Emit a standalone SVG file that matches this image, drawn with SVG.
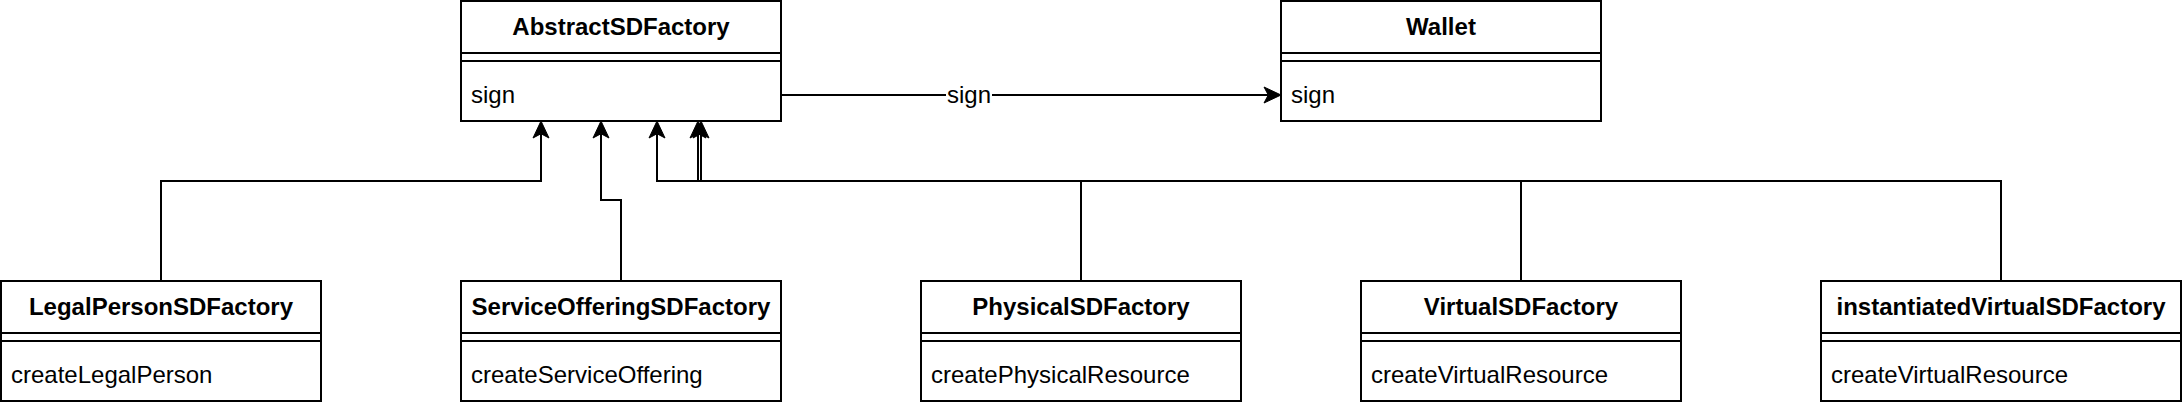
<svg xmlns="http://www.w3.org/2000/svg" width="2182" height="408" viewBox="0 0 2182 408">
  <style>
    .box { fill: #ffffff; stroke: #000000; stroke-width: 2; }
    .sep { stroke: #000000; stroke-width: 2; fill: none; }
    .title { font-family: "Liberation Sans", Arial, sans-serif; font-size: 24px; font-weight: bold; fill: #000000; text-anchor: middle; }
    .field { font-family: "Liberation Sans", Arial, sans-serif; font-size: 24px; fill: #000000; }
    .edge { fill: none; stroke: #000000; stroke-width: 2; }
    .lbl { font-family: "Liberation Sans", Arial, sans-serif; font-size: 24px; fill: #000000; text-anchor: middle; }
  </style>
  <defs>
    <marker id="arrow" markerUnits="userSpaceOnUse" markerWidth="20" markerHeight="20" refX="4.25" refY="0" orient="auto" viewBox="0 -10 20 20" overflow="visible">
      <path d="M17,0 L0,-8 L4.25,0 L0,8 Z" fill="#000000" stroke="#000000" stroke-width="1"/>
    </marker>
  </defs>

  <g id="connectors">
    <path class="edge" d="M161,281 V181 H541 V133.75" marker-end="url(#arrow)"/>
    <path class="edge" d="M621,281 V200 H601 V133.75" marker-end="url(#arrow)"/>
    <path class="edge" d="M1081,281 V181 H657 V133.75" marker-end="url(#arrow)"/>
    <path class="edge" d="M1521,281 V181 H698 V133.75" marker-end="url(#arrow)"/>
    <path class="edge" d="M2001,281 V181 H701 V133.75" marker-end="url(#arrow)"/>
    <path class="edge" d="M781,95 H1268.25" marker-end="url(#arrow)"/>
    <rect x="946" y="83" width="46" height="24" fill="#ffffff"/>
    <text class="lbl" x="969" y="103">sign</text>
  </g>

  <g id="AbstractSDFactory">
    <rect class="box" x="461" y="1" width="320" height="120"/>
    <line class="sep" x1="461" y1="53" x2="781" y2="53"/>
    <line class="sep" x1="461" y1="61" x2="781" y2="61"/>
    <text class="title" x="621" y="35">AbstractSDFactory</text>
    <text class="field" x="471" y="103">sign</text>
  </g>

  <g id="Wallet">
    <rect class="box" x="1281" y="1" width="320" height="120"/>
    <line class="sep" x1="1281" y1="53" x2="1601" y2="53"/>
    <line class="sep" x1="1281" y1="61" x2="1601" y2="61"/>
    <text class="title" x="1441" y="35">Wallet</text>
    <text class="field" x="1291" y="103">sign</text>
  </g>

  <g id="LegalPersonSDFactory">
    <rect class="box" x="1" y="281" width="320" height="120"/>
    <line class="sep" x1="1" y1="333" x2="321" y2="333"/>
    <line class="sep" x1="1" y1="341" x2="321" y2="341"/>
    <text class="title" x="161" y="315">LegalPersonSDFactory</text>
    <text class="field" x="11" y="383">createLegalPerson</text>
  </g>

  <g id="ServiceOfferingSDFactory">
    <rect class="box" x="461" y="281" width="320" height="120"/>
    <line class="sep" x1="461" y1="333" x2="781" y2="333"/>
    <line class="sep" x1="461" y1="341" x2="781" y2="341"/>
    <text class="title" x="621" y="315">ServiceOfferingSDFactory</text>
    <text class="field" x="471" y="383">createServiceOffering</text>
  </g>

  <g id="PhysicalSDFactory">
    <rect class="box" x="921" y="281" width="320" height="120"/>
    <line class="sep" x1="921" y1="333" x2="1241" y2="333"/>
    <line class="sep" x1="921" y1="341" x2="1241" y2="341"/>
    <text class="title" x="1081" y="315">PhysicalSDFactory</text>
    <text class="field" x="931" y="383">createPhysicalResource</text>
  </g>

  <g id="VirtualSDFactory">
    <rect class="box" x="1361" y="281" width="320" height="120"/>
    <line class="sep" x1="1361" y1="333" x2="1681" y2="333"/>
    <line class="sep" x1="1361" y1="341" x2="1681" y2="341"/>
    <text class="title" x="1521" y="315">VirtualSDFactory</text>
    <text class="field" x="1371" y="383">createVirtualResource</text>
  </g>

  <g id="instantiatedVirtualSDFactory">
    <rect class="box" x="1821" y="281" width="360" height="120"/>
    <line class="sep" x1="1821" y1="333" x2="2181" y2="333"/>
    <line class="sep" x1="1821" y1="341" x2="2181" y2="341"/>
    <text class="title" x="2001" y="315">instantiatedVirtualSDFactory</text>
    <text class="field" x="1831" y="383">createVirtualResource</text>
  </g>
</svg>
